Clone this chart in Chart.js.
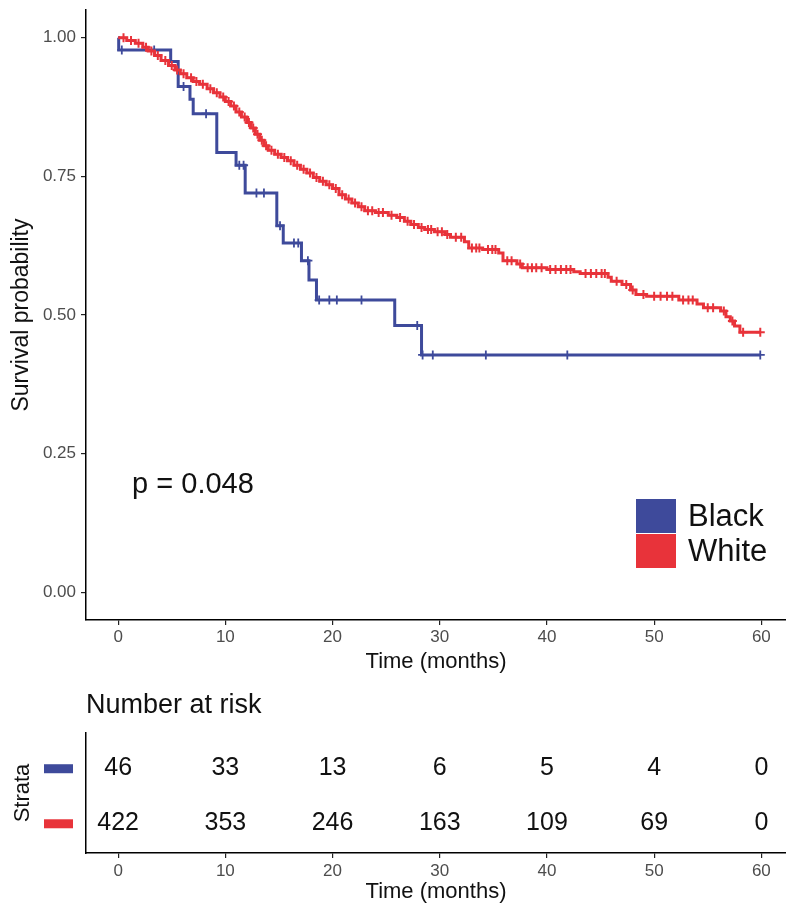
<!DOCTYPE html>
<html lang="en">
<head>
<meta charset="UTF-8">
<title>Survival by race</title>
<script src="https://cdn.jsdelivr.net/npm/chart.js@4.4.1/dist/chart.umd.min.js"></script>
<style>
  html, body { margin: 0; padding: 0; background: #fff; overflow: hidden; }
  #wrap { position: relative; width: 786px; height: 910px; }
  #km { position: absolute; left: 0; top: 0; }
  #risk { position: absolute; left: 0; top: 680px; }
</style>
</head>
<body>
<div id="wrap">
  <canvas id="km" width="786" height="680"></canvas>
  <canvas id="risk" width="786" height="230"></canvas>
</div>
<script>
// ---- data ----
const groups = ['Black', 'White'];
const monthTicks = [0, 10, 20, 30, 40, 50, 60];
const survTicks = [0, 0.25, 0.5, 0.75, 1];
const pValue = 'p = 0.048';

// step points: time of event, survival after it
const blackTimes = [0, 0.05, 4.9, 5.6, 6.7, 7.0, 9.2, 11.0, 11.85, 14.8, 15.4, 17.1, 17.8, 18.5, 25.8, 28.3, 59.9];
const blackSurv  = [1, 0.978, 0.957, 0.912, 0.889, 0.863, 0.793, 0.770, 0.720, 0.661, 0.630, 0.598, 0.563, 0.527, 0.481, 0.428, 0.428];
const blackCensor = [0.34, 3.36, 6.1, 8.2, 11.3, 11.7, 12.9, 13.6, 15.1, 16.4, 16.8, 17.7, 18.75, 19.7, 20.4, 22.7, 27.9, 28.4, 29.35, 34.3, 41.9, 59.9];

const whiteTimes = [0, 0.8, 1.6, 2.3, 2.8, 3.4, 4.0, 4.7, 5.3, 5.8, 6.4, 7.0, 7.6, 8.3, 8.9, 9.5, 10.0, 10.5, 11.0, 11.5,
  12.0, 12.4, 12.8, 13.2, 13.6, 14.0, 14.6, 15.2, 15.8, 16.4, 17.0, 17.6, 18.2, 18.8, 19.4, 20.0, 20.6, 21.2, 21.8, 22.4,
  23.0, 24.0, 25.2, 26.0, 26.7, 27.3, 28.0, 28.6, 29.5, 30.5, 31.0, 32.3, 32.7, 34.0, 35.5, 35.9, 37.2, 37.7, 40.0, 42.5,
  43.1, 45.7, 46.0, 47.0, 47.8, 48.3, 49.3, 52.3, 54.0, 54.6, 56.2, 56.7, 57.1, 57.5, 58.0, 59.9];
const whiteSurv = [1, 0.995, 0.990, 0.983, 0.976, 0.968, 0.959, 0.950, 0.942, 0.935, 0.928, 0.921, 0.916, 0.908, 0.901, 0.893, 0.885, 0.877, 0.866, 0.857,
  0.847, 0.837, 0.826, 0.815, 0.805, 0.797, 0.790, 0.784, 0.778, 0.770, 0.763, 0.756, 0.748, 0.741, 0.735, 0.728, 0.717, 0.709, 0.702, 0.695,
  0.688, 0.685, 0.680, 0.676, 0.669, 0.663, 0.658, 0.654, 0.650, 0.645, 0.640, 0.632, 0.621, 0.618, 0.612, 0.598, 0.592, 0.585, 0.582, 0.578,
  0.575, 0.568, 0.561, 0.555, 0.545, 0.537, 0.534, 0.527, 0.520, 0.513, 0.507, 0.497, 0.489, 0.480, 0.469, 0.469];
const whiteCensor = [0.5, 1.2, 1.9, 2.6, 3.1, 3.7, 4.4, 5.0, 5.5, 6.1, 6.8, 7.3, 7.9, 8.6, 9.2, 9.8, 10.3, 10.8, 11.3, 11.8,
  12.2, 12.6, 13.0, 13.4, 13.8, 14.3, 14.9, 15.5, 16.1, 16.7, 17.3, 17.9, 18.5, 19.1, 19.7, 20.3, 20.9, 21.5, 22.1, 22.7,
  23.3, 23.7, 24.3, 24.7, 25.5, 26.3, 27.0, 27.6, 28.3, 28.9, 29.2, 29.8, 30.2, 30.7, 31.5, 32.0, 33.0, 33.4, 33.7, 34.5,
  34.9, 35.2, 36.3, 36.7, 37.5, 38.2, 38.6, 39.0, 39.5, 40.3, 40.8, 41.3, 41.8, 42.2, 43.6, 44.1, 44.6, 45.1, 45.4, 46.5,
  47.4, 48.0, 49.0, 50.0, 50.6, 51.2, 51.7, 52.7, 53.2, 53.6, 55.0, 55.5, 56.5, 57.3, 58.3, 59.9];

const riskBlack = [46, 33, 13, 6, 5, 4, 0];
const riskWhite = [422, 353, 246, 163, 109, 69, 0];

const colBlack = '#3E4A9B';
const colWhite = '#E8333A';
const FONT = '"Liberation Sans", Arial, sans-serif';

Chart.defaults.font.family = FONT;
Chart.defaults.animation = false;

function toPoints(ts, ss) { return ts.map((t, i) => ({ x: t, y: ss[i] })); }
function survAt(ts, ss, t) {
  let s = ss[0];
  for (let i = 0; i < ts.length; i++) if (ts[i] <= t) s = ss[i];
  return s;
}
function censorPoints(cs, ts, ss) { return cs.map(t => ({ x: t, y: survAt(ts, ss, t) })); }

function xScale(o) {
  return {
    type: 'linear', min: -3, max: 62.3,
    afterBuildTicks: s => { s.ticks = monthTicks.map(v => ({ value: v })); },
    afterFit: s => { s.height = o.h; },
    border: { display: true, color: '#000', width: 1.5 },
    grid: { display: true, drawOnChartArea: false, drawTicks: true, tickLength: 5, color: '#222', lineWidth: 1.2 },
    ticks: { color: '#4d4d4d', font: { size: 17 }, padding: o.tp },
    title: { display: true, text: 'Time (months)', color: '#111', font: { size: 22 }, padding: { top: 0, bottom: o.pb } }
  };
}

// ---- survival curves ----
const kmExtras = {
  id: 'kmExtras',
  afterDraw(chart) {
    const { ctx, chartArea, scales } = chart;
    ctx.save();
    // p value
    ctx.fillStyle = '#111';
    ctx.font = '29px ' + FONT;
    ctx.textBaseline = 'middle';
    ctx.textAlign = 'left';
    ctx.fillText(pValue, scales.x.getPixelForValue(1.3), scales.y.getPixelForValue(0.194));
    // legend in the lower right
    const cols = [colBlack, colWhite];
    const lx = chartArea.right - 150, ly = chartArea.bottom - 121;
    ctx.font = '31px ' + FONT;
    groups.forEach((g, i) => {
      ctx.fillStyle = cols[i];
      ctx.fillRect(lx, ly + i * 35, 40, 34);
      ctx.fillStyle = '#111';
      ctx.fillText(g, lx + 52, ly + i * 35 + 18);
    });
    ctx.restore();
  }
};

new Chart(document.getElementById('km'), {
  type: 'scatter',
  data: {
    datasets: [
      { label: 'White', data: toPoints(whiteTimes, whiteSurv), showLine: true, stepped: 'before',
        borderColor: colWhite, borderWidth: 3, pointRadius: 0, order: 1 },
      { label: 'White censor', data: censorPoints(whiteCensor, whiteTimes, whiteSurv), pointStyle: 'cross',
        pointRadius: 4.5, borderColor: colWhite, borderWidth: 2, order: 0 },
      { label: 'Black', data: toPoints(blackTimes, blackSurv), showLine: true, stepped: 'before',
        borderColor: colBlack, borderWidth: 3, pointRadius: 0, order: 3 },
      { label: 'Black censor', data: censorPoints(blackCensor, blackTimes, blackSurv), pointStyle: 'cross',
        pointRadius: 4.5, borderColor: colBlack, borderWidth: 1.8, order: 2 }
    ]
  },
  options: {
    responsive: false,
    layout: { autoPadding: false, padding: { top: 10, right: 0, left: 0, bottom: 0 } },
    plugins: { legend: { display: false }, tooltip: { enabled: false } },
    scales: {
      x: xScale({ h: 60, tp: 2, pb: 5 }),
      y: {
        type: 'linear', min: -0.05, max: 1.05,
        afterBuildTicks: s => { s.ticks = survTicks.map(v => ({ value: v })); },
        afterFit: s => { s.width = 86; s.paddingTop = 0; s.paddingBottom = 0; },
        border: { display: true, color: '#000', width: 1.5 },
        grid: { display: true, drawOnChartArea: false, drawTicks: true, tickLength: 5, color: '#222', lineWidth: 1.2 },
        ticks: { color: '#4d4d4d', font: { size: 17 }, padding: 5, callback: v => v.toFixed(2) },
        title: { display: true, text: 'Survival probability', color: '#111', font: { size: 23 }, padding: { top: 8, bottom: 0 } }
      }
    }
  },
  plugins: [kmExtras]
});

// ---- number at risk table ----
const riskRows = [riskBlack, riskWhite];
const riskExtras = {
  id: 'riskExtras',
  afterDraw(chart) {
    const { ctx, chartArea, scales } = chart;
    ctx.save();
    ctx.fillStyle = '#111';
    ctx.font = '27px ' + FONT;
    ctx.textAlign = 'left';
    ctx.textBaseline = 'middle';
    ctx.fillText('Number at risk', chartArea.left, 26);
    ctx.font = '25px ' + FONT;
    ctx.textAlign = 'center';
    riskRows.forEach((row, r) => {
      const y = scales.y.getPixelForValue(r + 1);
      row.forEach((n, i) => {
        ctx.fillText(String(n), scales.x.getPixelForValue(monthTicks[i]), y);
      });
      ctx.fillStyle = [colBlack, colWhite][r];
      ctx.fillRect(44, y - 4, 29, 9);
      ctx.fillStyle = '#111';
    });
    ctx.restore();
  }
};

new Chart(document.getElementById('risk'), {
  type: 'scatter',
  data: { datasets: [] },
  options: {
    responsive: false,
    layout: { autoPadding: false, padding: { top: 53, right: 0, left: 0, bottom: 0 } },
    plugins: { legend: { display: false }, tooltip: { enabled: false } },
    scales: {
      x: xScale({ h: 57, tp: 3, pb: 5 }),
      y: {
        type: 'linear', reverse: true, min: 0.36, max: 2.54,
        afterBuildTicks: s => { s.ticks = []; },
        afterFit: s => { s.width = 86; },
        border: { display: true, color: '#000', width: 1.5 },
        grid: { display: false },
        ticks: { display: false },
        title: { display: true, text: 'Strata', color: '#111', font: { size: 22 }, padding: { top: 10, bottom: 0 } }
      }
    }
  },
  plugins: [riskExtras]
});
</script>
</body>
</html>
